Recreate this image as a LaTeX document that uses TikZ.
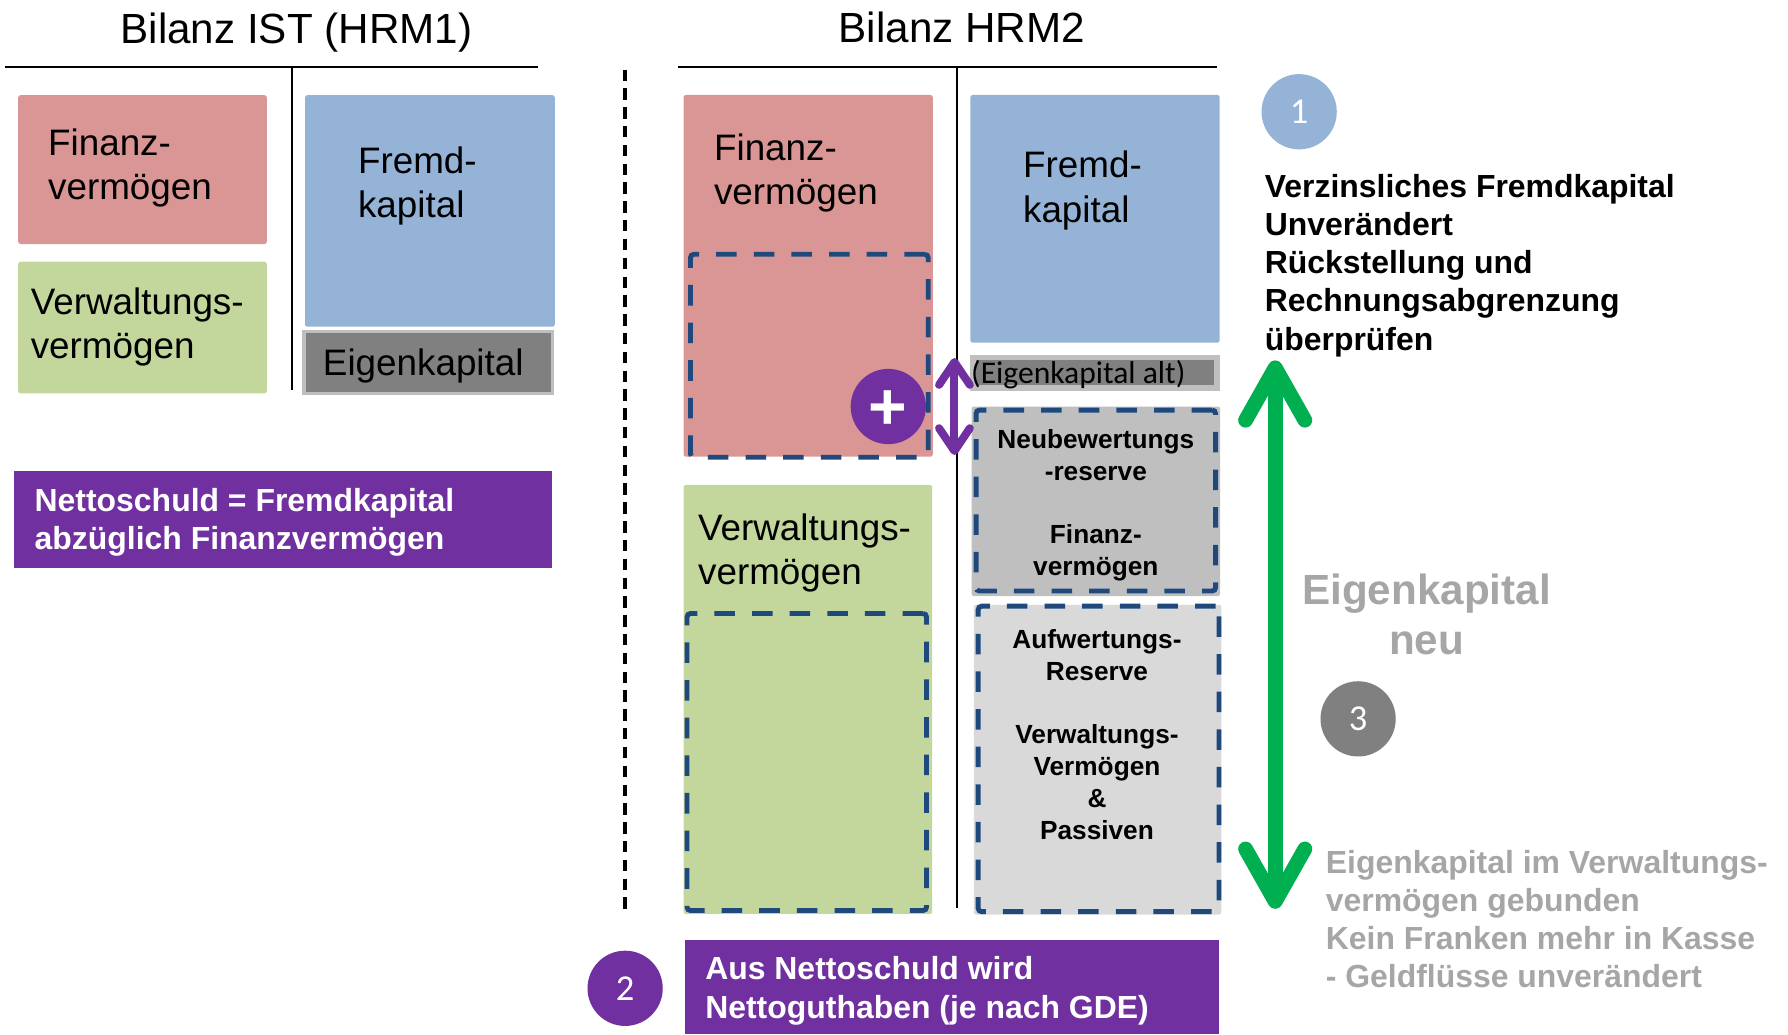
\documentclass[tikz,border=0pt]{standalone}
\usepackage{fontspec}
\setmainfont{Liberation Sans}
\newfontfamily\calfont{Carlito}
\usetikzlibrary{arrows.meta,fit}
\definecolor{fvpink}{HTML}{D99694}
\definecolor{vvgreen}{HTML}{C3D69B}
\definecolor{fkblue}{HTML}{95B3D7}
\definecolor{ekdark}{HTML}{808080}
\definecolor{eklight}{HTML}{BFBFBF}
\definecolor{nbgray}{HTML}{BFBFBF}
\definecolor{awgray}{HTML}{D9D9D9}
\definecolor{lila}{HTML}{7030A0}
\definecolor{dblue}{HTML}{1F497D}
\definecolor{arrgreen}{HTML}{00B050}
\definecolor{txtgray}{HTML}{A6A6A6}
\begin{document}
\begin{tikzpicture}[x=1pt,y=-1pt,
  area/.style={inner sep=0pt, outer sep=0pt, rounded corners=2pt},
  dashbox/.style={inner sep=0pt, outer sep=0pt, draw=dblue, line width=4.3pt, dash pattern=on 18pt off 15pt, rounded corners=3pt},
  title/.style={font=\fontsize{37}{44}\selectfont, anchor=base, inner sep=0pt},
  boxtxt/.style={font=\fontsize{32.3}{38.7}\selectfont, anchor=base west, align=left, inner sep=0pt},
  bodytxt/.style={font=\bfseries\fontsize{28}{33.5}\selectfont, anchor=base west, align=left, inner sep=0pt},
  innertxt/.style={font=\bfseries\fontsize{23}{27.9}\selectfont, anchor=base, align=center, inner sep=0pt},
  numcircle/.style={circle, minimum size=66pt, inner sep=0pt, text=white, font=\calfont\fontsize{32}{38}\selectfont},
  rulepen/.style={line width=1.8pt},
  seppen/.style={line width=1.6pt},
]
\useasboundingbox (0,0) rectangle (1568,907);

% ---------- left balance ----------
\node[area, fill=fvpink, fit={(16,83.5) (234,214)}] (lfv) {};
\node[area, fill=vvgreen, fit={(16,229.5) (234,345)}] (lvv) {};
\node[area, fill=fkblue, fit={(267.5,83.5) (486.5,286.5)}] (lfk) {};
\node[inner sep=0pt, outer sep=0pt, fill=ekdark, draw=eklight, line width=3pt, fit={(266.5,290.5) (484.5,345)}] (lek) {};
\node[inner sep=0pt, outer sep=0pt, fill=lila, fit={(12.4,413) (484.3,497.8)}] (lnetto) {};

\draw[rulepen] (4.5,58.5) -- (471.5,58.5);
\draw[seppen] (256,58.5) -- (256,342);

% ---------- right balance ----------
\node[area, fill=fvpink, fit={(599.4,83.3) (818,400.5)}] (rfv) {};
\node[dashbox, fit={(605.5,223) (814,401)}] (rfvd) {};
\node[area, fill=vvgreen, fit={(599.4,425.3) (817.5,801.5)}] (rvv) {};
\node[dashbox, fit={(602.5,538) (812.5,798.5)}] (rvvd) {};
\node[area, fill=fkblue, fit={(851,83.3) (1069.6,300.5)}] (rfk) {};
\node[inner sep=0pt, outer sep=0pt, fill=ekdark, draw=eklight, line width=5pt, fit={(853.5,313.5) (1067.5,340.5)}] (rek) {};
\node[area, fill=nbgray, fit={(852,356.5) (1070,522.7)}] (rnbfill) {};
\node[dashbox, fit={(856,359.6) (1066,518.3)}] (rnb) {};
\node[area, fill=awgray, fit={(854,530.4) (1071,802)}] (rawfill) {};
\node[dashbox, fit={(857.8,531.6) (1069,799.5)}] (raw) {};
\node[inner sep=0pt, outer sep=0pt, fill=lila, fit={(600.7,824.3) (1068.6,907)}] (rnetto) {};

\draw[rulepen] (594.7,58.5) -- (1067,58.5);
\draw[seppen] (839.5,58.5) -- (839.5,796);
\draw[line width=3pt, dash pattern=on 10pt off 6.5pt] (548,61) -- (548,802);

% ---------- arrows ----------
\coordinate (ptop) at (837,314);
\coordinate (pbot) at (837,399);
\draw[lila, line width=7pt, {Straight Barb[round,length=20pt,width=27pt]}-{Straight Barb[round,length=20pt,width=27pt]}] (pbot) -- (ptop);
\coordinate (gtop) at (1118.3,316);
\coordinate (gbot) at (1118.3,797);
\draw[arrgreen, line width=13pt, {Straight Barb[round,length=46pt,width=52pt]}-{Straight Barb[round,length=46pt,width=52pt]}] (gbot) -- (gtop);

% ---------- circles ----------
\node[circle, minimum size=66pt, inner sep=0pt, fill=lila] (plusc) at (779,356.5) {};
\node[inner sep=0pt, text=white, font=\bfseries\fontsize{58}{60}\selectfont, yshift=-3.5pt] (plus) at (plusc.center) {+};
\node[numcircle, fill=fkblue] (c1) at (1139.3,98) {1};
\node[numcircle, fill=ekdark] (c3) at (1191,630.4) {3};
\node[numcircle, fill=lila] (c2) at (548.2,866.7) {2};

% ---------- texts (base anchor = baseline of last line) ----------
\node[title] (t1) at (260,38) {Bilanz IST (HRM1)};
\node[title] (t2) at (843.5,37.4) {Bilanz HRM2};

\node[boxtxt] (lfvt) at (42,174.7) {Finanz-\\vermögen};
\node[boxtxt] (lvvt) at (26.8,314.7) {Verwaltungs-\\vermögen};
\node[boxtxt] (lfkt) at (313.8,190.7) {Fremd-\\kapital};
\node[boxtxt] (lekt) at (283,329) {Eigenkapital};
\node[bodytxt, text=white] (lnt) at (30.2,482.2) {Nettoschuld = Fremdkapital\\abzüglich Finanzvermögen};

\node[boxtxt] (rfvt) at (626,179.7) {Finanz-\\vermögen};
\node[boxtxt] (rvvt) at (612,512.7) {Verwaltungs-\\vermögen};
\node[boxtxt] (rfkt) at (897,194.7) {Fremd-\\kapital};
\node[anchor=base west, inner sep=0pt, font=\calfont\fontsize{27.7}{33}\selectfont] (rekt) at (851.5,336.4) {(Eigenkapital alt)};
\node[innertxt] (rnbt) at (961,504.9) {Neubewertungs\\-reserve\\[27.8pt]Finanz-\\vermögen};
\node[innertxt] (rawt) at (962,736) {Aufwertungs-\\Reserve\\[28pt]Verwaltungs-\\Vermögen\\\&\\Passiven};
\node[bodytxt, text=white] (rnt) at (618.3,892.9) {Aus Nettoschuld wird\\Nettoguthaben (je nach GDE)};

\node[bodytxt] (info1) at (1109,307) {Verzinsliches Fremdkapital\\Unverändert\\Rückstellung und\\Rechnungsabgrenzung\\überprüfen};
\node[font=\bfseries\fontsize{37}{44.7}\selectfont, text=txtgray, anchor=base, align=center, inner sep=0pt] (ekneu) at (1251,574.4) {Eigenkapital\\neu};
\node[bodytxt, text=txtgray] (info3) at (1162.5,866.3) {Eigenkapital im Verwaltungs-\\vermögen gebunden\\Kein Franken mehr in Kasse\\- Geldflüsse unverändert};
\end{tikzpicture}
\end{document}
